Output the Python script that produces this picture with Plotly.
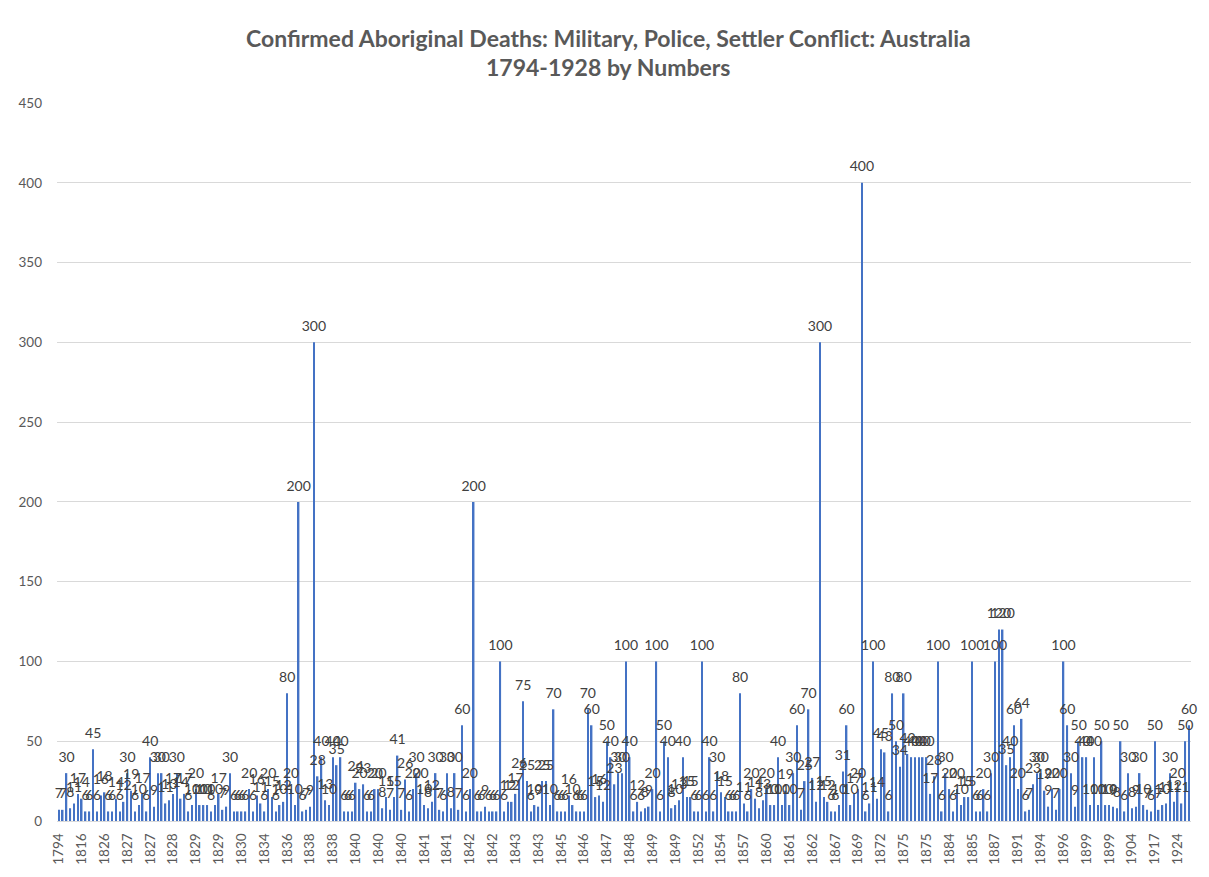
import plotly.graph_objects as go

# ---------------- data ----------------
tick_labels = ["1794", "1816", "1826", "1827", "1827", "1828", "1829", "1829", "1830", "1834",
               "1836", "1838", "1838", "1840", "1840", "1840", "1841", "1841", "1842", "1842",
               "1843", "1843", "1845", "1846", "1847", "1848", "1849", "1849", "1852", "1854",
               "1857", "1860", "1861", "1862", "1867", "1869", "1872", "1875", "1875", "1884",
               "1885", "1887", "1891", "1894", "1896", "1899", "1899", "1904", "1917", "1924"]

deaths = [
    7, 7, 30, 8, 11, 17, 14, 6, 6, 45, 6, 16, 18, 6, 6, 14, 6, 12, 30, 19,
    6, 10, 17, 6, 40, 9, 30, 30, 11, 13, 17, 30, 14, 17, 6, 10, 20, 10, 10, 10,
    6, 10, 17, 7, 9, 30, 6, 6, 6, 6, 20, 6, 16, 11, 6, 20, 15, 6, 10, 12,
    80, 20, 10, 200, 6, 7, 9, 300, 28, 40, 13, 10, 40, 35, 40, 6, 6, 6, 24, 20,
    23, 6, 6, 20, 20, 8, 15, 7, 15, 41, 7, 26, 6, 20, 30, 20, 10, 8, 12, 30,
    7, 6, 30, 8, 30, 7, 60, 6, 20, 200, 6, 6, 9, 6, 6, 6, 100, 6, 12, 12,
    17, 26, 75, 25, 6, 10, 9, 25, 25, 10, 70, 6, 6, 6, 16, 10, 6, 6, 6, 70,
    60, 15, 16, 12, 50, 40, 23, 30, 30, 100, 40, 6, 12, 6, 8, 9, 20, 100, 6, 50,
    40, 8, 10, 13, 40, 15, 15, 6, 6, 100, 6, 40, 6, 30, 18, 15, 6, 6, 6, 80,
    11, 6, 20, 14, 8, 13, 20, 10, 10, 40, 10, 19, 10, 30, 60, 7, 25, 70, 27, 12,
    300, 15, 12, 6, 6, 10, 31, 60, 10, 17, 20, 400, 6, 11, 100, 14, 45, 43, 6, 80,
    50, 34, 80, 42, 40, 40, 40, 40, 40, 17, 28, 100, 6, 30, 20, 6, 20, 10, 15, 15,
    100, 6, 6, 20, 6, 30, 100, 120, 120, 35, 40, 60, 20, 64, 6, 7, 23, 30, 30, 19,
    9, 20, 7, 20, 100, 60, 30, 9, 50, 40, 40, 10, 40, 10, 50, 10, 10, 9, 8, 50,
    6, 30, 8, 9, 30, 10, 7, 6, 50, 7, 10, 11, 30, 12, 20, 11, 50, 60,
]
label_every = 6

title_line1 = "Confirmed Aboriginal Deaths: Military, Police, Settler Conflict: Australia"
title_line2 = "1794-1928 by Numbers"

# ---------------- layout geometry ----------------
W, H = 1209, 877
ML, MR, MT, MB = 57, 18, 103, 51
PW, PH = W - ML - MR, H - MT - MB


def px_to_paper_x(px):
    return (px - ML) / PW


def px_to_paper_y(py):
    return (H - MB - py) / PH


x_idx = list(range(len(deaths)))

fig = go.Figure()
fig.add_trace(go.Bar(
    x=x_idx, y=deaths,
    marker=dict(color="#4472C4", line=dict(width=0)),
    hoverinfo="skip",
))
fig.add_trace(go.Scatter(
    x=x_idx, y=deaths,
    mode="markers+text",
    text=[str(v) for v in deaths],
    textposition="top center",
    marker=dict(size=11, opacity=0),
    textfont=dict(family="Lato", size=14, color="#404040"),
    cliponaxis=False,
    hoverinfo="skip",
))

fig.update_layout(
    width=W, height=H,
    margin=dict(l=ML, r=MR, t=MT, b=MB),
    plot_bgcolor="white", paper_bgcolor="white",
    showlegend=False,
    bargap=0.6,
    font=dict(family="Lato", color="#595959"),
)

fig.update_xaxes(
    range=[-0.5, len(deaths) - 0.5],
    tickmode="array",
    tickvals=x_idx[::label_every],
    ticktext=tick_labels,
    tickangle=-90,
    showgrid=False,
    showline=True, linecolor="#D9D9D9", linewidth=1,
    ticks="",
    tickfont=dict(family="Lato", size=13.5, color="#595959"),
    ticklabelstandoff=6,
    zeroline=False,
)
fig.update_yaxes(
    range=[0, 450], dtick=50, tick0=0,
    showgrid=True, gridcolor="#D9D9D9", gridwidth=1,
    zeroline=False, showline=False,
    tickfont=dict(family="Lato", size=13.5, color="#595959"),
    ticklabelstandoff=14,
)

title_cx = px_to_paper_x(608)
fig.add_annotation(text=f"<b>{title_line1}</b>", xref="paper", yref="paper",
                   x=title_cx, y=px_to_paper_y(38), xanchor="center", yanchor="middle",
                   showarrow=False, font=dict(family="Lato", size=23, color="#595959"))
fig.add_annotation(text=f"<b>{title_line2}</b>", xref="paper", yref="paper",
                   x=title_cx, y=px_to_paper_y(67), xanchor="center", yanchor="middle",
                   showarrow=False, font=dict(family="Lato", size=23, color="#595959"))

fig.write_html("out.html", config={"displayModeBar": False},
               post_script="document.body.style.margin='0';")
